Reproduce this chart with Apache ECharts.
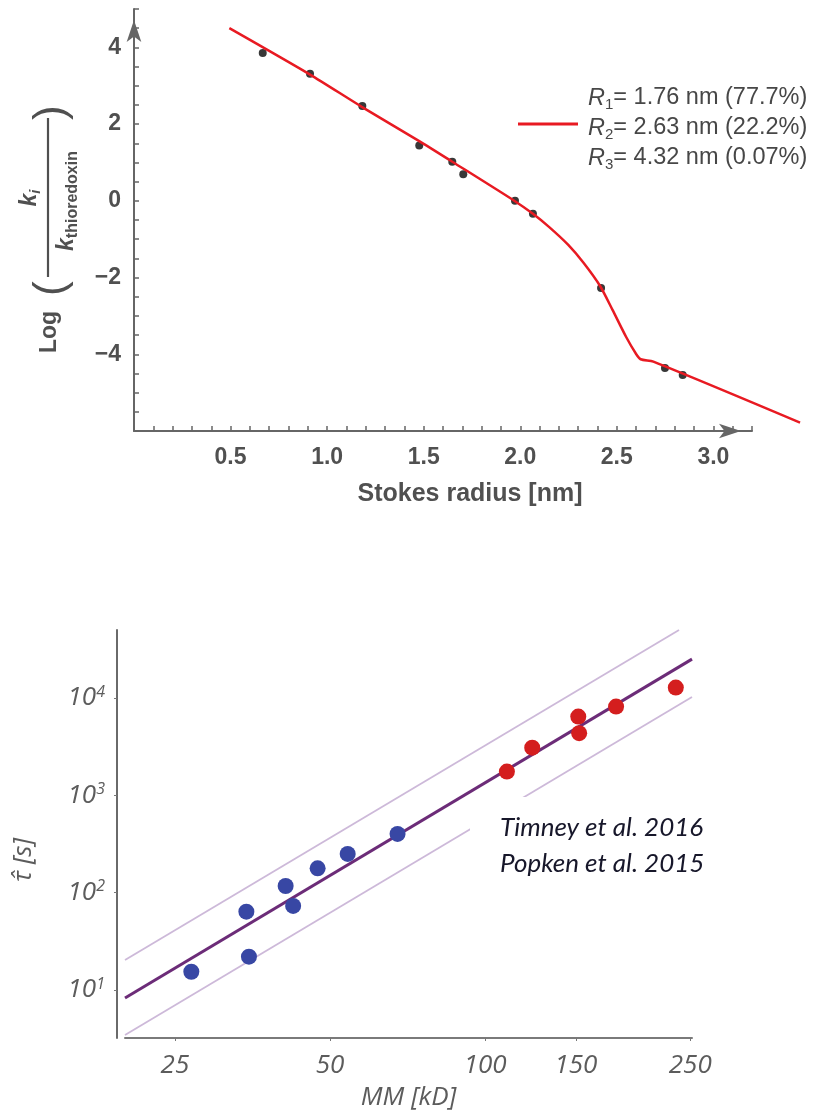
<!DOCTYPE html>
<html>
<head>
<meta charset="utf-8">
<script src="https://cdn.jsdelivr.net/npm/echarts@6/dist/echarts.min.js"></script>
<style>html,body{margin:0;padding:0;background:#fff}#c{width:816px;height:1117px}</style>
</head>
<body>
<div id="c"></div>
<script>
// ---------- Top panel data ----------
const stokesRadius = [0.667, 0.912, 1.183, 1.478, 1.649, 1.706, 1.974, 2.067, 2.420, 2.751, 2.843];
const logRatio     = [3.85, 3.31, 2.47, 1.44, 1.02, 0.69, 0.00, -0.34, -2.27, -4.36, -4.54];
const fitRadius    = [0.494, 0.912, 1.18, 1.48, 1.649, 1.974, 2.067, 2.15, 2.25, 2.33, 2.415, 2.48, 2.55, 2.60, 2.625, 2.691, 3.451];
const fitLogRatio  = [4.50, 3.29, 2.45, 1.55, 1.02, -0.01, -0.34, -0.68, -1.15, -1.62, -2.22, -2.85, -3.55, -3.98, -4.13, -4.19, -5.78];
const legendIndex  = ['1', '2', '3'];
const legendRadius = ['1.76', '2.63', '4.32'];
const legendShare  = ['77.7%', '22.2%', '0.07%'];

// ---------- Bottom panel data ----------
const blueMM   = [26.9, 34.4, 34.8, 41.0, 42.4, 47.3, 54.1, 67.6];
const blueTau  = [15.4, 63.8, 22.0, 117, 73.0, 178, 250, 401];
const redMM    = [110.2, 123.4, 151.6, 152.2, 179.5, 234.4];
const redTau   = [1753, 3092, 6440, 4350, 8160, 12790];
const fitMM    = [20, 252];
const fitTau   = [8.28, 25100];
const upperMM  = [20, 237.8];
const upperTau = [20.3, 50000];
const lowerMM  = [20, 252];
const lowerTau = [3.45, 10240];
const mmTicks  = [25, 50, 100, 150, 250];
const tauTicks = [10, 100, 1000, 10000];
const sources  = ['Timney et al. 2016', 'Popken et al. 2015'];

const zip = (a, b) => a.map((v, i) => [v, b[i]]);

const AX = '#666';
const TXT = '#505050';
const SANS = 'Liberation Sans';

const chart = echarts.init(document.getElementById('c'), null, {renderer: 'canvas'});

const legendText = legendIndex.map((k, i) =>
  '{r|R}{s|' + k + '}= ' + legendRadius[i] + ' nm (' + legendShare[i] + ')').join('\n');

const topTick = {show: true, inside: true, length: 5, lineStyle: {color: AX, width: 1.5}};
const topLabel = {fontFamily: SANS, fontWeight: 'bold', fontSize: 23, color: TXT, margin: 13,
  showMinLabel: false, showMaxLabel: false};
const topLine = {onZero: false, lineStyle: {color: AX, width: 2},
  symbol: ['none', 'arrow'], symbolSize: [11, 22], symbolOffset: [0, -11]};

const botFont = {fontFamily: 'Open Sans', fontStyle: 'italic', fontSize: 26, color: '#5c5c5c'};

const option = {
  animation: false,
  backgroundColor: '#fff',
  grid: [
    {left: 134, top: 9, width: 618, height: 422},      // top visible axes
    {left: 134, top: 9, width: 667.8, height: 422},    // top data
    {left: 125, top: 630, width: 567, height: 408}     // bottom
  ],
  xAxis: [
    {type: 'value', gridIndex: 0, min: 0, max: 3.2, interval: 0.5,
      axisLine: topLine, axisTick: topTick,
      minorTick: {show: true, splitNumber: 5, length: 5, lineStyle: {color: AX, width: 1.5}},
      axisLabel: Object.assign({formatter: v => v.toFixed(1)}, topLabel, {margin: 15}),
      splitLine: {show: false}},
    {type: 'value', gridIndex: 1, min: 0, max: 3.46, show: false},
    {type: 'log', logBase: 10, gridIndex: 2, min: 20, max: 252,
      axisLine: {onZero: false, lineStyle: {color: '#7a7a7a', width: 2}},
      axisTick: {show: true, customValues: mmTicks, length: 3, lineStyle: {color: '#777'}},
      axisLabel: Object.assign({customValues: mmTicks, margin: 15, formatter: v => String(Math.round(v))}, botFont),
      minorTick: {show: false}, splitLine: {show: false},
      name: 'MM [kD]', nameLocation: 'middle', nameGap: 47, nameTextStyle: botFont}
  ],
  yAxis: [
    {type: 'value', gridIndex: 0, min: -6, max: 5, interval: 2,
      axisLine: topLine, axisTick: topTick,
      minorTick: {show: true, splitNumber: 4, length: 5, lineStyle: {color: AX, width: 1.5}},
      axisLabel: Object.assign({formatter: v => v < 0 ? '\u2212' + (-v) : String(v)}, topLabel),
      splitLine: {show: false}},
    {type: 'value', gridIndex: 1, min: -6, max: 5, show: false},
    {type: 'log', logBase: 10, gridIndex: 2, min: 3.21, max: 50000, offset: 8,
      axisLine: {onZero: false, lineStyle: {color: '#6a6a6a', width: 2}},
      axisTick: {show: true, customValues: tauTicks, length: 3, lineStyle: {color: '#777'}},
      axisLabel: Object.assign({customValues: tauTicks, margin: 12,
        formatter: v => '10{s|' + Math.round(Math.log10(v)) + '}',
        rich: {s: Object.assign({}, botFont, {fontSize: 16, padding: [0, 0, 12, 0]})}}, botFont),
      minorTick: {show: false}, splitLine: {show: false}}
  ],
  legend: {
    data: ['fit'], left: 518, top: 75, padding: 0, selectedMode: false,
    icon: 'rect', itemWidth: 60, itemHeight: 3,
    formatter: () => legendText,
    textStyle: {fontFamily: SANS, fontSize: 23.5, lineHeight: 30, color: '#474747', padding: [8, 0, 0, 5],
      rich: {r: {fontFamily: SANS, fontSize: 23.5, fontStyle: 'italic', color: '#474747'},
             s: {fontFamily: SANS, fontSize: 15, color: '#474747', padding: [14, 0, 0, 0]}}}
  },
  series: [
    {name: 'points', type: 'scatter', xAxisIndex: 1, yAxisIndex: 1, data: zip(stokesRadius, logRatio),
      symbolSize: 8, itemStyle: {color: '#383838', opacity: 1}, z: 2, silent: true},
    {name: 'fit', type: 'line', xAxisIndex: 1, yAxisIndex: 1, data: zip(fitRadius, fitLogRatio),
      showSymbol: false, symbol: 'none', smooth: 0.25,
      lineStyle: {color: '#e81a22', width: 2.5},
      itemStyle: {color: '#e81a22'}, z: 3, silent: true},
    {name: 'upper', type: 'line', xAxisIndex: 2, yAxisIndex: 2, data: zip(upperMM, upperTau),
      showSymbol: false, symbol: 'none', lineStyle: {color: '#cdb9d9', width: 1.8}, z: 2, silent: true},
    {name: 'lower', type: 'line', xAxisIndex: 2, yAxisIndex: 2, data: zip(lowerMM, lowerTau),
      showSymbol: false, symbol: 'none', lineStyle: {color: '#cdb9d9', width: 1.8}, z: 2, silent: true},
    {name: 'main', type: 'line', xAxisIndex: 2, yAxisIndex: 2, data: zip(fitMM, fitTau),
      showSymbol: false, symbol: 'none', lineStyle: {color: '#6c2c78', width: 3}, z: 3, silent: true},
    {name: 'Timney', type: 'scatter', xAxisIndex: 2, yAxisIndex: 2, data: zip(blueMM, blueTau),
      symbolSize: 16, itemStyle: {color: '#3847a4', opacity: 1}, z: 4, silent: true},
    {name: 'Popken', type: 'scatter', xAxisIndex: 2, yAxisIndex: 2, data: zip(redMM, redTau),
      symbolSize: 16, itemStyle: {color: '#d41e1e', opacity: 1}, z: 4, silent: true}
  ],
  graphic: [
    // rotated y title of the top panel: Log ( k_i / k_thioredoxin )
    {type: 'group', x: 50, y: 353, rotation: Math.PI / 2, silent: true, children: [
      {type: 'text', x: 0, y: 0, style: {text: 'Log', font: 'bold 23px "Liberation Sans"', fill: TXT,
        align: 'left', verticalAlign: 'middle'}},
      {type: 'text', x: 57, y: 2, style: {text: '(', font: '44px "Liberation Sans"', fill: TXT,
        align: 'left', verticalAlign: 'middle'}},
      {type: 'line', shape: {x1: 76, y1: -2, x2: 235, y2: -2}, style: {stroke: TXT, lineWidth: 2.2}},
      {type: 'text', x: 155, y: -20, style: {text: '{k|k}{s|i}', align: 'center', verticalAlign: 'middle',
        rich: {k: {font: 'italic bold 23px "Liberation Sans"', fill: TXT},
               s: {font: 'italic bold 15px "Liberation Sans"', fill: TXT, padding: [12, 0, 0, 0]}}}},
      {type: 'text', x: 152, y: 17, style: {text: '{k|k}{s|thioredoxin}', align: 'center', verticalAlign: 'middle',
        rich: {k: {font: 'italic bold 23px "Liberation Sans"', fill: TXT},
               s: {font: 'bold 16px "Liberation Sans"', fill: TXT, padding: [12, 0, 0, 0]}}}},
      {type: 'text', x: 233, y: 2, style: {text: ')', font: '44px "Liberation Sans"', fill: TXT,
        align: 'left', verticalAlign: 'middle'}}
    ]},
    {type: 'text', x: 470, y: 494, silent: true, style: {text: 'Stokes radius [nm]',
      font: 'bold 25px "Liberation Sans"', fill: TXT, align: 'center', verticalAlign: 'middle'}},
    // bottom panel
    {type: 'rect', z: 100, silent: true, shape: {x: 470, y: 797, width: 250, height: 95}, style: {fill: '#fff'}},
    {type: 'text', z: 101, x: 500, y: 828, silent: true, style: {text: sources[0],
      font: 'italic 26px Lato', fill: '#17172a', align: 'left', verticalAlign: 'middle'}},
    {type: 'text', z: 101, x: 500, y: 864, silent: true, style: {text: sources[1],
      font: 'italic 26px Lato', fill: '#17172a', align: 'left', verticalAlign: 'middle'}},
    {type: 'text', x: 24, y: 860, rotation: Math.PI / 2, silent: true, style: {text: 'τ\u0302 [s]',
      font: 'italic 26px "Open Sans"', fill: '#5c5c5c', align: 'center', verticalAlign: 'middle'}}
  ]
};
chart.setOption(option);
</script>
</body>
</html>
